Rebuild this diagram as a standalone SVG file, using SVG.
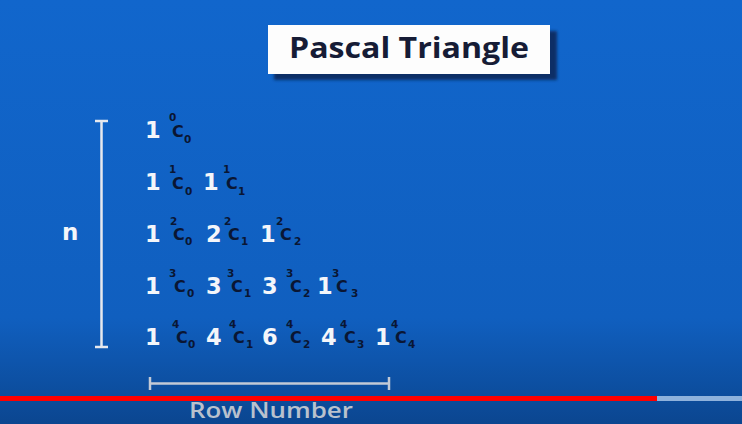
<svg xmlns="http://www.w3.org/2000/svg" width="742" height="424" viewBox="0 0 742 424">
<defs>
<linearGradient id="bg" x1="0" y1="0" x2="0" y2="1">
<stop offset="0" stop-color="#1166cc"/>
<stop offset="0.75" stop-color="#105fbf"/>
<stop offset="1" stop-color="#0b4690"/>
</linearGradient>
<filter id="blur" x="-10%" y="-20%" width="120%" height="140%"><feGaussianBlur stdDeviation="1.5"/></filter>
<style>
.d{font-family:"DejaVu Sans",sans-serif;font-weight:bold;font-size:22.5px;fill:#f4f6fa}
.c{font-family:"DejaVu Sans",sans-serif;font-weight:bold;font-size:16px;fill:#0a1633}
.s{font-family:"DejaVu Sans",sans-serif;font-weight:bold;font-size:10.5px;fill:#0a1633}
.bar{stroke:#e6e8ee;stroke-width:2.5;fill:none}
</style>
</defs>
<rect width="742" height="424" fill="url(#bg)"/>
<g id="title">
<rect x="274" y="31" width="283" height="49" fill="#0a2d66" filter="url(#blur)"/>
<rect x="268" y="25" width="282" height="49" fill="#fdfdfd"/>
<text x="409" y="58" text-anchor="middle" font-family="'Open Sans',sans-serif" font-weight="700" font-size="28" fill="#161c36" textLength="240" lengthAdjust="spacingAndGlyphs">Pascal Triangle</text>
</g>
<g id="n-axis">
<line class="bar" x1="101.5" y1="121" x2="101.5" y2="347"/>
<line class="bar" x1="95" y1="121" x2="108" y2="121"/>
<line class="bar" x1="95" y1="347" x2="108" y2="347"/>
<text x="62" y="240" font-family="'DejaVu Sans',sans-serif" font-weight="bold" font-size="23" fill="#f4f6fa">n</text>
</g>
<g id="row0">
<text class="d" x="145" y="138">1</text><text class="s" x="169" y="121">0</text><text class="c" x="172" y="137">C</text><text class="s" x="184" y="143">0</text>
</g>
<g id="row1">
<text class="d" x="145" y="190">1</text><text class="s" x="169" y="173">1</text><text class="c" x="172" y="189">C</text><text class="s" x="185" y="195">0</text>
<text class="d" x="203" y="190">1</text><text class="s" x="223" y="173">1</text><text class="c" x="226" y="189">C</text><text class="s" x="238" y="195">1</text>
</g>
<g id="row2">
<text class="d" x="145" y="242">1</text><text class="s" x="170" y="225">2</text><text class="c" x="173" y="240">C</text><text class="s" x="185" y="245">0</text>
<text class="d" x="206" y="242">2</text><text class="s" x="224" y="225">2</text><text class="c" x="228" y="240">C</text><text class="s" x="241" y="245">1</text>
<text class="d" x="260" y="242">1</text><text class="s" x="276" y="225">2</text><text class="c" x="280" y="240">C</text><text class="s" x="294" y="245">2</text>
</g>
<g id="row3">
<text class="d" x="145" y="294">1</text><text class="s" x="169" y="277">3</text><text class="c" x="174" y="292">C</text><text class="s" x="187" y="297">0</text>
<text class="d" x="206" y="294">3</text><text class="s" x="227" y="277">3</text><text class="c" x="231" y="292">C</text><text class="s" x="244" y="297">1</text>
<text class="d" x="262" y="294">3</text><text class="s" x="286" y="277">3</text><text class="c" x="290" y="292">C</text><text class="s" x="303" y="297">2</text>
<text class="d" x="317" y="294">1</text><text class="s" x="332" y="277">3</text><text class="c" x="336" y="292">C</text><text class="s" x="351" y="297">3</text>
</g>
<g id="row4">
<text class="d" x="145" y="345">1</text><text class="s" x="172" y="328">4</text><text class="c" x="176" y="343">C</text><text class="s" x="188" y="348">0</text>
<text class="d" x="206" y="345">4</text><text class="s" x="229" y="328">4</text><text class="c" x="233" y="343">C</text><text class="s" x="246" y="348">1</text>
<text class="d" x="262" y="345">6</text><text class="s" x="286" y="328">4</text><text class="c" x="290" y="343">C</text><text class="s" x="303" y="348">2</text>
<text class="d" x="321" y="345">4</text><text class="s" x="340" y="328">4</text><text class="c" x="344" y="343">C</text><text class="s" x="357" y="348">3</text>
<text class="d" x="375" y="345">1</text><text class="s" x="391" y="328">4</text><text class="c" x="395" y="343">C</text><text class="s" x="408" y="348">4</text>
</g>
<g id="row-axis">
<line x1="150" y1="383.5" x2="389" y2="383.5" stroke="#c3cad6" stroke-width="2.5"/>
<line x1="150" y1="377" x2="150" y2="390" stroke="#c3cad6" stroke-width="2.5"/>
<line x1="389" y1="377" x2="389" y2="390" stroke="#c3cad6" stroke-width="2.5"/>
<text x="189" y="418" font-family="'Open Sans',sans-serif" font-weight="600" font-size="22" fill="#b9c1cd" textLength="164" lengthAdjust="spacingAndGlyphs">Row Number</text>
</g>
<rect x="0" y="396" width="657" height="5" fill="#ff0000"/>
<rect x="657" y="396" width="85" height="5" fill="#8fb2dc"/>
</svg>
